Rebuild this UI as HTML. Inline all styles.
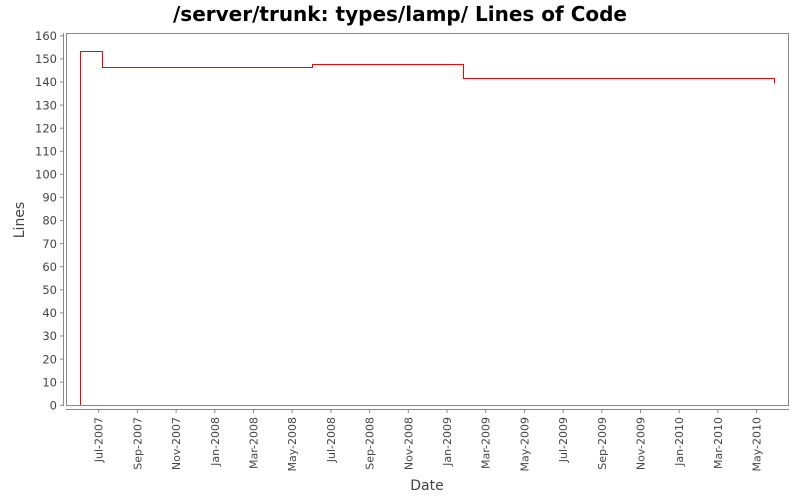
<!DOCTYPE html>
<html><head><meta charset="utf-8"><style>
body{margin:0;background:#fff;}
svg{display:block;font-family:"DejaVu Sans","Liberation Sans",sans-serif;}
</style></head><body>
<svg width="800" height="500" viewBox="0 0 800 500" xmlns="http://www.w3.org/2000/svg">
<rect width="800" height="500" fill="#fff"/>
<text x="400" y="21" text-anchor="middle" font-size="20" font-weight="bold" fill="#000">/server/trunk: types/lamp/ Lines of Code</text>
<rect x="66.5" y="33.5" width="722" height="372" fill="#fff" stroke="#888" stroke-width="1"/>
<g stroke="#888" stroke-width="1">
<line x1="63.5" y1="33" x2="63.5" y2="406"/>
<line x1="66" y1="409.5" x2="789" y2="409.5"/>
<line x1="60" x2="63.5" y1="405.3" y2="405.3"/><line x1="60" x2="63.5" y1="382.2" y2="382.2"/><line x1="60" x2="63.5" y1="359.1" y2="359.1"/><line x1="60" x2="63.5" y1="336" y2="336"/><line x1="60" x2="63.5" y1="312.9" y2="312.9"/><line x1="60" x2="63.5" y1="289.8" y2="289.8"/><line x1="60" x2="63.5" y1="266.7" y2="266.7"/><line x1="60" x2="63.5" y1="243.6" y2="243.6"/><line x1="60" x2="63.5" y1="220.5" y2="220.5"/><line x1="60" x2="63.5" y1="197.4" y2="197.4"/><line x1="60" x2="63.5" y1="174.4" y2="174.4"/><line x1="60" x2="63.5" y1="151.3" y2="151.3"/><line x1="60" x2="63.5" y1="128.2" y2="128.2"/><line x1="60" x2="63.5" y1="105.1" y2="105.1"/><line x1="60" x2="63.5" y1="82" y2="82"/><line x1="60" x2="63.5" y1="58.9" y2="58.9"/><line x1="60" x2="63.5" y1="35.8" y2="35.8"/>
<line y1="409.5" y2="413" x1="98.7" x2="98.7"/><line y1="409.5" y2="413" x1="137.4" x2="137.4"/><line y1="409.5" y2="413" x1="176.1" x2="176.1"/><line y1="409.5" y2="413" x1="214.8" x2="214.8"/><line y1="409.5" y2="413" x1="253.5" x2="253.5"/><line y1="409.5" y2="413" x1="292.2" x2="292.2"/><line y1="409.5" y2="413" x1="330.9" x2="330.9"/><line y1="409.5" y2="413" x1="369.6" x2="369.6"/><line y1="409.5" y2="413" x1="408.3" x2="408.3"/><line y1="409.5" y2="413" x1="447" x2="447"/><line y1="409.5" y2="413" x1="485.7" x2="485.7"/><line y1="409.5" y2="413" x1="524.4" x2="524.4"/><line y1="409.5" y2="413" x1="563.1" x2="563.1"/><line y1="409.5" y2="413" x1="601.8" x2="601.8"/><line y1="409.5" y2="413" x1="640.5" x2="640.5"/><line y1="409.5" y2="413" x1="679.2" x2="679.2"/><line y1="409.5" y2="413" x1="717.9" x2="717.9"/><line y1="409.5" y2="413" x1="756.6" x2="756.6"/>
</g>
<g font-size="11.5" fill="#444" text-anchor="end">
<text x="57" y="409.5">0</text><text x="57" y="386.4">10</text><text x="57" y="363.3">20</text><text x="57" y="340.2">30</text><text x="57" y="317.1">40</text><text x="57" y="294">50</text><text x="57" y="270.9">60</text><text x="57" y="247.8">70</text><text x="57" y="224.7">80</text><text x="57" y="201.6">90</text><text x="57" y="178.6">100</text><text x="57" y="155.5">110</text><text x="57" y="132.4">120</text><text x="57" y="109.3">130</text><text x="57" y="86.2">140</text><text x="57" y="63.1">150</text><text x="57" y="40">160</text>
</g>
<g font-size="11" fill="#444" text-anchor="end">
<text transform="translate(102.7,417) rotate(-90)">Jul-2007</text>
<text transform="translate(141.4,417) rotate(-90)">Sep-2007</text>
<text transform="translate(180.1,417) rotate(-90)">Nov-2007</text>
<text transform="translate(218.8,417) rotate(-90)">Jan-2008</text>
<text transform="translate(257.5,417) rotate(-90)">Mar-2008</text>
<text transform="translate(296.2,417) rotate(-90)">May-2008</text>
<text transform="translate(334.9,417) rotate(-90)">Jul-2008</text>
<text transform="translate(373.6,417) rotate(-90)">Sep-2008</text>
<text transform="translate(412.3,417) rotate(-90)">Nov-2008</text>
<text transform="translate(451,417) rotate(-90)">Jan-2009</text>
<text transform="translate(489.7,417) rotate(-90)">Mar-2009</text>
<text transform="translate(528.4,417) rotate(-90)">May-2009</text>
<text transform="translate(567.1,417) rotate(-90)">Jul-2009</text>
<text transform="translate(605.8,417) rotate(-90)">Sep-2009</text>
<text transform="translate(644.5,417) rotate(-90)">Nov-2009</text>
<text transform="translate(683.2,417) rotate(-90)">Jan-2010</text>
<text transform="translate(721.9,417) rotate(-90)">Mar-2010</text>
<text transform="translate(760.6,417) rotate(-90)">May-2010</text>
</g>
<polyline fill="none" stroke="#f00" stroke-width="1" points="80.5,405 80.5,51.5 102.5,51.5 102.5,67.5 312.5,67.5 312.5,64.5 463.5,64.5 463.5,78.5 774.5,78.5 774.5,83.5"/>
<text x="24" y="220" font-size="14" fill="#444" text-anchor="middle" transform="rotate(-90 24 220)">Lines</text>
<text x="427" y="490" font-size="14" fill="#444" text-anchor="middle">Date</text>
</svg>
</body></html>
